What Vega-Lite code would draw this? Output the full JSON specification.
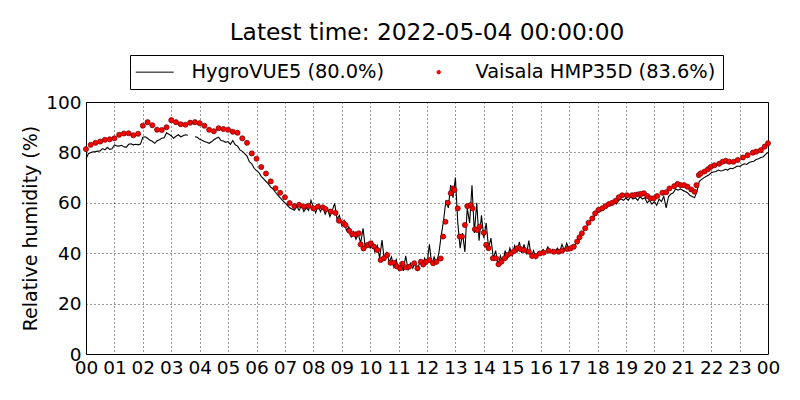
{
  "$schema": "https://vega.github.io/schema/vega-lite/v6.json",
  "width": 682,
  "height": 252,
  "autosize": "none",
  "padding": {"left": 86, "top": 102, "right": 32, "bottom": 46},
  "background": "white",
  "title": {"text": "Latest time: 2022-05-04 00:00:00", "font": "DejaVu Sans", "fontSize": 23.3, "fontWeight": "normal", "color": "black", "anchor": "middle", "frame": "group", "offset": 9},
  "datasets": {
    "hyg": [
      {"t":0,"v":77.5},{"t":5,"v":79.5},{"t":10,"v":80.0},{"t":15,"v":80.2},{"t":20,"v":80.3},{"t":25,"v":80.5},{"t":30,"v":80.6},{"t":35,"v":81.5},{"t":40,"v":81.0},{"t":45,"v":82.0},{"t":50,"v":81.2},{"t":55,"v":81.4},
      {"t":60,"v":83.0},{"t":65,"v":82.6},{"t":70,"v":82.5},{"t":75,"v":82.8},{"t":80,"v":82.2},{"t":85,"v":82.0},{"t":90,"v":83.2},{"t":95,"v":83.4},{"t":100,"v":83.0},{"t":105,"v":83.2},{"t":110,"v":83.0},{"t":115,"v":83.3},
      {"t":120,"v":86.0},{"t":125,"v":86.2},{"t":130,"v":85.6},{"t":135,"v":84.8},{"t":140,"v":84.4},{"t":145,"v":83.6},{"t":150,"v":84.6},{"t":155,"v":85.0},{"t":160,"v":85.6},{"t":165,"v":85.8},{"t":170,"v":87.8},{"t":175,"v":87.2},
      {"t":180,"v":86.6},{"t":185,"v":85.6},{"t":190,"v":86.4},{"t":195,"v":87.0},{"t":200,"v":86.2},{"t":205,"v":86.6},{"t":210,"v":87.0},{"t":215,"v":86.8},{"t":220,"v":null},{"t":225,"v":null},{"t":230,"v":86.2},{"t":235,"v":86.0},
      {"t":240,"v":85.2},{"t":245,"v":84.8},{"t":250,"v":84.3},{"t":255,"v":84.0},{"t":260,"v":83.6},{"t":265,"v":84.2},{"t":270,"v":85.0},{"t":275,"v":85.6},{"t":280,"v":86.0},{"t":285,"v":84.7},{"t":290,"v":84.5},{"t":295,"v":84.0},
      {"t":300,"v":84.3},{"t":305,"v":83.2},{"t":310,"v":84.7},{"t":315,"v":83.0},{"t":320,"v":82.5},{"t":325,"v":81.0},{"t":330,"v":80.4},{"t":335,"v":79.5},{"t":340,"v":78.5},{"t":345,"v":76.3},{"t":350,"v":75.5},{"t":355,"v":73.7},
      {"t":360,"v":72.8},{"t":365,"v":72.0},{"t":370,"v":70.5},{"t":375,"v":69.5},{"t":380,"v":68.5},{"t":385,"v":67.5},{"t":390,"v":66.2},{"t":395,"v":65.5},{"t":400,"v":64.2},{"t":405,"v":63.0},{"t":410,"v":62.0},{"t":415,"v":61.0},
      {"t":420,"v":60.0},{"t":425,"v":59.0},{"t":430,"v":58.0},{"t":435,"v":57.5},{"t":440,"v":57.0},{"t":445,"v":58.5},{"t":450,"v":57.0},{"t":455,"v":59.0},{"t":460,"v":56.5},{"t":465,"v":58.0},{"t":470,"v":57.0},{"t":475,"v":61.0},
      {"t":480,"v":58.5},{"t":485,"v":56.0},{"t":490,"v":59.0},{"t":495,"v":56.5},{"t":500,"v":58.5},{"t":505,"v":55.5},{"t":510,"v":57.5},{"t":515,"v":54.5},{"t":520,"v":57.0},{"t":525,"v":59.8},{"t":530,"v":53.5},{"t":535,"v":55.0},
      {"t":540,"v":51.0},{"t":545,"v":53.0},{"t":550,"v":49.0},{"t":555,"v":50.5},{"t":560,"v":46.5},{"t":565,"v":48.5},{"t":570,"v":45.5},{"t":575,"v":47.5},{"t":580,"v":44.0},{"t":585,"v":49.9},{"t":590,"v":41.5},{"t":595,"v":44.0},
      {"t":600,"v":42.0},{"t":605,"v":44.5},{"t":610,"v":40.5},{"t":615,"v":43.0},{"t":620,"v":38.0},{"t":625,"v":45.2},{"t":630,"v":37.0},{"t":635,"v":40.5},{"t":640,"v":36.5},{"t":645,"v":38.5},{"t":650,"v":34.5},{"t":655,"v":37.5},
      {"t":660,"v":33.5},{"t":665,"v":36.0},{"t":670,"v":33.0},{"t":675,"v":39.0},{"t":680,"v":33.5},{"t":685,"v":36.0},{"t":690,"v":34.0},{"t":695,"v":36.5},{"t":700,"v":33.0},{"t":705,"v":37.0},{"t":710,"v":35.0},{"t":715,"v":38.0},
      {"t":720,"v":35.5},{"t":725,"v":43.5},{"t":730,"v":35.5},{"t":735,"v":38.5},{"t":740,"v":36.0},{"t":745,"v":40.0},{"t":750,"v":47.0},{"t":755,"v":53.0},{"t":760,"v":61.0},{"t":765,"v":58.0},{"t":770,"v":67.0},{"t":775,"v":62.0},
      {"t":780,"v":70.0},{"t":785,"v":52.0},{"t":790,"v":42.0},{"t":795,"v":48.0},{"t":800,"v":40.5},{"t":805,"v":58.0},{"t":810,"v":52.0},{"t":815,"v":67.0},{"t":820,"v":48.0},{"t":825,"v":60.0},{"t":830,"v":45.0},{"t":835,"v":55.0},
      {"t":840,"v":46.0},{"t":845,"v":52.0},{"t":850,"v":42.0},{"t":855,"v":46.0},{"t":860,"v":38.0},{"t":865,"v":41.0},{"t":870,"v":35.0},{"t":875,"v":39.0},{"t":880,"v":36.0},{"t":885,"v":41.0},{"t":890,"v":38.0},{"t":895,"v":42.0},
      {"t":900,"v":39.0},{"t":905,"v":43.0},{"t":910,"v":40.5},{"t":915,"v":44.5},{"t":920,"v":40.0},{"t":925,"v":43.5},{"t":930,"v":39.5},{"t":935,"v":45.0},{"t":940,"v":38.5},{"t":945,"v":41.0},{"t":950,"v":38.0},{"t":955,"v":40.5},
      {"t":960,"v":40.0},{"t":965,"v":41.5},{"t":970,"v":40.2},{"t":975,"v":42.5},{"t":980,"v":40.5},{"t":985,"v":41.5},{"t":990,"v":40.0},{"t":995,"v":42.0},{"t":1000,"v":40.5},{"t":1005,"v":43.5},{"t":1010,"v":41.0},{"t":1015,"v":44.0},
      {"t":1020,"v":41.5},{"t":1025,"v":43.0},{"t":1030,"v":42.0},{"t":1035,"v":44.5},{"t":1040,"v":45.0},{"t":1045,"v":47.0},{"t":1050,"v":48.5},{"t":1055,"v":50.0},{"t":1060,"v":51.5},{"t":1065,"v":53.0},{"t":1070,"v":54.0},{"t":1075,"v":55.0},
      {"t":1080,"v":56.0},{"t":1085,"v":56.5},{"t":1090,"v":57.0},{"t":1095,"v":58.5},{"t":1100,"v":58.0},{"t":1105,"v":59.5},{"t":1110,"v":59.0},{"t":1115,"v":60.0},{"t":1120,"v":59.5},{"t":1125,"v":61.0},{"t":1130,"v":61.5},{"t":1135,"v":61.0},
      {"t":1140,"v":62.0},{"t":1145,"v":61.0},{"t":1150,"v":62.5},{"t":1155,"v":61.5},{"t":1160,"v":62.0},{"t":1165,"v":61.0},{"t":1170,"v":62.5},{"t":1175,"v":61.5},{"t":1180,"v":62.0},{"t":1185,"v":60.0},{"t":1190,"v":61.0},{"t":1195,"v":59.5},
      {"t":1200,"v":60.5},{"t":1205,"v":59.0},{"t":1210,"v":61.5},{"t":1215,"v":60.5},{"t":1220,"v":62.5},{"t":1225,"v":58.0},{"t":1230,"v":62.5},{"t":1235,"v":63.5},{"t":1240,"v":64.0},{"t":1245,"v":65.5},{"t":1250,"v":65.0},{"t":1255,"v":65.5},
      {"t":1260,"v":65.0},{"t":1265,"v":64.5},{"t":1270,"v":64.0},{"t":1275,"v":63.0},{"t":1280,"v":62.5},{"t":1285,"v":62.0},{"t":1290,"v":64.5},{"t":1295,"v":68.5},{"t":1300,"v":69.3},{"t":1305,"v":70.0},{"t":1310,"v":70.5},{"t":1315,"v":71.0},
      {"t":1320,"v":71.9},{"t":1325,"v":72.2},{"t":1330,"v":72.4},{"t":1335,"v":73.0},{"t":1340,"v":72.6},{"t":1345,"v":72.8},{"t":1350,"v":73.3},{"t":1355,"v":73.0},{"t":1360,"v":73.7},{"t":1365,"v":73.5},{"t":1370,"v":74.0},{"t":1375,"v":74.6},
      {"t":1380,"v":74.4},{"t":1385,"v":75.0},{"t":1390,"v":75.5},{"t":1395,"v":75.2},{"t":1400,"v":76.0},{"t":1405,"v":76.3},{"t":1410,"v":76.5},{"t":1415,"v":77.2},{"t":1420,"v":77.5},{"t":1425,"v":78.0},{"t":1430,"v":78.3},{"t":1435,"v":79.2},
      {"t":1440,"v":80.0}
    ],
    "vai": [
      {"t":0,"v":81.3},{"t":10,"v":83.0},{"t":20,"v":83.8},{"t":30,"v":84.3},{"t":40,"v":85.0},{"t":50,"v":85.2},
      {"t":60,"v":85.6},{"t":70,"v":87.0},{"t":80,"v":87.5},{"t":90,"v":87.6},{"t":100,"v":86.8},{"t":110,"v":87.4},
      {"t":120,"v":90.6},{"t":130,"v":92.0},{"t":140,"v":90.8},{"t":150,"v":89.0},{"t":160,"v":88.9},{"t":170,"v":90.0},
      {"t":180,"v":92.8},{"t":190,"v":92.0},{"t":200,"v":91.2},{"t":210,"v":91.0},{"t":220,"v":91.8},{"t":230,"v":92.0},
      {"t":240,"v":91.6},{"t":250,"v":90.6},{"t":260,"v":89.0},{"t":270,"v":88.4},{"t":280,"v":89.6},{"t":290,"v":89.3},
      {"t":300,"v":89.0},{"t":310,"v":88.2},{"t":320,"v":87.8},{"t":330,"v":85.6},{"t":340,"v":83.8},{"t":350,"v":79.6},
      {"t":360,"v":77.5},{"t":370,"v":74.2},{"t":380,"v":71.6},{"t":390,"v":68.5},{"t":400,"v":65.8},{"t":410,"v":64.0},
      {"t":420,"v":62.2},{"t":430,"v":59.9},{"t":440,"v":58.7},{"t":450,"v":59.2},{"t":460,"v":58.5},{"t":470,"v":58.8},
      {"t":480,"v":57.8},{"t":490,"v":58.5},{"t":500,"v":58.2},{"t":506,"v":57.5},{"t":517,"v":56.5},{"t":527,"v":56.0},{"t":534,"v":52.9},{"t":544,"v":51.9},{"t":548,"v":51.2},{"t":556,"v":48.9},{"t":562,"v":47.6},{"t":569,"v":47.5},{"t":576,"v":47.9},{"t":580,"v":43.5},{"t":586,"v":41.9},{"t":594,"v":43.2},{"t":601,"v":43.9},{"t":608,"v":42.6},{"t":615,"v":41.3},{"t":622,"v":37.3},{"t":629,"v":38.0},{"t":636,"v":39.3},{"t":643,"v":36.2},{"t":650,"v":36.2},{"t":656,"v":34.8},{"t":663,"v":34.0},{"t":668,"v":35.8},{"t":675,"v":34.4},{"t":682,"v":34.6},{"t":693,"v":36.0},{"t":700,"v":34.0},{"t":707,"v":36.6},{"t":712,"v":35.5},{"t":718,"v":36.6},
      {"t":725,"v":37.3},{"t":733,"v":36.0},{"t":740,"v":36.6},{"t":749,"v":37.9},{"t":754,"v":46.6},{"t":759,"v":52.5},{"t":764,"v":60.0},{"t":770,"v":63.8},{"t":775,"v":65.7},{"t":778,"v":65.1},{"t":785,"v":57.8},{"t":789,"v":46.6},{"t":794,"v":46.6},{"t":800,"v":51.2},{"t":805,"v":58.7},{"t":812,"v":59.1},{"t":816,"v":57.8},{"t":821,"v":49.5},{"t":826,"v":49.2},{"t":831,"v":50.5},{"t":840,"v":48.1},{"t":845,"v":43.3},{"t":850,"v":42.0},{"t":859,"v":38.0},{"t":866,"v":38.0},{"t":871,"v":35.6},{"t":877,"v":36.6},{"t":884,"v":38.0},{"t":890,"v":39.3},{"t":897,"v":39.9},{"t":904,"v":40.9},{"t":911,"v":42.0},{"t":918,"v":41.6},{"t":925,"v":41.3},{"t":935,"v":40.6},{"t":942,"v":38.9},{"t":950,"v":38.9},{"t":958,"v":39.9},
      {"t":966,"v":40.2},{"t":977,"v":41.0},{"t":988,"v":40.6},{"t":998,"v":40.6},{"t":1005,"v":41.0},{"t":1016,"v":41.7},{"t":1023,"v":41.9},{"t":1030,"v":42.6},{"t":1037,"v":44.6},{"t":1042,"v":46.3},{"t":1047,"v":47.9},{"t":1054,"v":49.9},{"t":1061,"v":52.1},{"t":1069,"v":53.8},{"t":1075,"v":55.8},{"t":1082,"v":57.2},{"t":1090,"v":57.8},{"t":1097,"v":58.7},{"t":1104,"v":59.5},{"t":1111,"v":60.0},{"t":1118,"v":60.8},{"t":1125,"v":62.2},{"t":1132,"v":63.0},{"t":1142,"v":63.0},{"t":1153,"v":63.0},{"t":1160,"v":63.2},{"t":1167,"v":63.4},{"t":1172,"v":63.5},{"t":1178,"v":63.8},{"t":1185,"v":62.7},{"t":1192,"v":61.8},{"t":1199,"v":61.8},{"t":1206,"v":62.7},{"t":1217,"v":64.0},{"t":1225,"v":64.2},{"t":1232,"v":65.7},{"t":1242,"v":66.6},{"t":1249,"v":67.5},{"t":1256,"v":67.0},{"t":1263,"v":67.0},{"t":1270,"v":66.4},{"t":1278,"v":65.3},{"t":1285,"v":64.4},{"t":1289,"v":67.0},{"t":1294,"v":71.0},{"t":1298,"v":71.7},{"t":1306,"v":72.4},{"t":1313,"v":73.3},{"t":1319,"v":74.2},{"t":1327,"v":74.9},{"t":1337,"v":75.5},{"t":1344,"v":76.3},{"t":1351,"v":76.7},{"t":1358,"v":76.3},{"t":1367,"v":76.3},{"t":1376,"v":77.0},{"t":1387,"v":78.0},{"t":1397,"v":78.9},{"t":1408,"v":79.9},{"t":1415,"v":80.3},{"t":1425,"v":80.9},{"t":1433,"v":82.3},{"t":1440,"v":83.6}
    ]
  },
  "encoding": {
    "x": {"field": "t", "type": "quantitative", "scale": {"domain": [0, 1440], "nice": false, "zero": false},
      "axis": {"title": null, "values": [0,60,120,180,240,300,360,420,480,540,600,660,720,780,840,900,960,1020,1080,1140,1200,1260,1320,1380,1440],
        "labelExpr": "(floor(datum.value/60)%24 < 10 ? '0' : '') + (floor(datum.value/60)%24)", "labelFlush": false, "labelOverlap": false, "labelBound": false, "labelPadding": 4}},
    "y": {"field": "v", "type": "quantitative", "scale": {"domain": [0, 100], "nice": false},
      "axis": {"title": "Relative humidity (%)", "values": [0,20,40,60,80,100], "labelPadding": 5, "titlePadding": 5}}
  },
  "layer": [
    {
      "data": {"name": "hyg"},
      "mark": {"type": "line", "color": "black", "strokeWidth": 1.1, "invalid": "break-paths-show-domains"},
      "encoding": {
        "color": {"datum": "HygroVUE5 (80.0%)", "type": "nominal",
          "scale": {"domain": ["HygroVUE5 (80.0%)", "Vaisala HMP35D (83.6%)"], "range": ["black", "red"]},
          "legend": {"orient": "none", "legendX": 44, "legendY": -47, "direction": "horizontal", "title": null,
            "strokeColor": "black", "fillColor": "white", "padding": 7, "cornerRadius": 0,
            "labelFont": "DejaVu Sans", "labelFontSize": 19.4, "labelColor": "black", "labelOffset": 27, "labelLimit": 0,
            "columnPadding": 36, "symbolSize": 1444, "symbolStrokeWidth": 1, "symbolOffset": 8,
            "encode": {"symbols": {"update": {
              "shape": {"signal": "datum.index == 0 ? 'stroke' : 'circle'"},
              "size": {"signal": "datum.index == 0 ? 1444 : 12"},
              "fill": {"signal": "datum.index == 0 ? 'transparent' : 'red'"},
              "stroke": {"signal": "datum.index == 0 ? 'black' : 'red'"},
              "strokeWidth": {"value": 1}}}}}}
      }
    },
    {
      "data": {"name": "vai"},
      "mark": {"type": "point", "filled": true, "size": 26, "stroke": "#6a0000", "strokeWidth": 0.7, "opacity": 1},
      "encoding": {
        "color": {"datum": "Vaisala HMP35D (83.6%)", "type": "nominal"}
      }
    }
  ],
  "config": {
    "font": "DejaVu Sans",
    "view": {"stroke": "black", "strokeWidth": 1},
    "axis": {"labelFont": "DejaVu Sans", "labelFontSize": 18.5, "labelColor": "black", "titleFont": "DejaVu Sans", "titleFontSize": 19, "titleFontWeight": "normal", "titleColor": "black",
      "grid": true, "gridColor": "black", "gridDash": [1, 3], "gridOpacity": 1, "gridWidth": 0.8, "domain": false, "ticks": false}
  }
}
